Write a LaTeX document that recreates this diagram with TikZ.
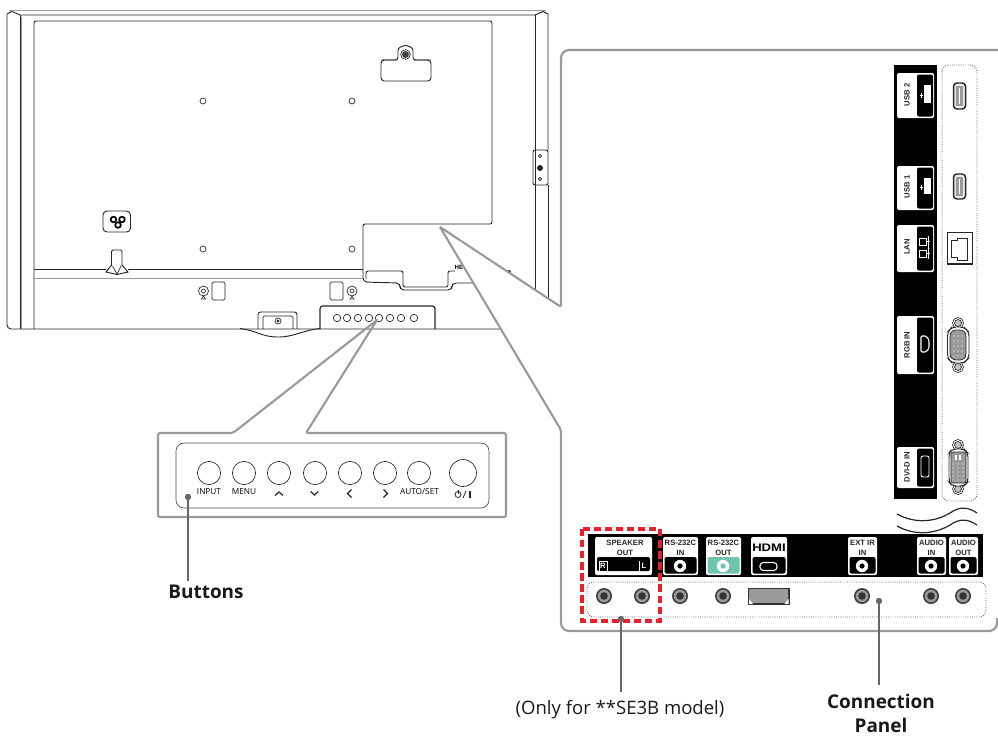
\documentclass[tikz,border=0pt]{standalone}
\usepackage{fontspec}
\setmainfont{Open Sans}
\newfontfamily\portfont{Liberation Sans}
\usetikzlibrary{positioning}
\definecolor{mgray}{HTML}{9A9A9A}
\definecolor{mleader}{HTML}{666666}
\definecolor{mred}{HTML}{E8202C}
\definecolor{mteal}{HTML}{6FC4AD}
\tikzset{tvline/.style = {black!85, line width=0.7pt}}
\tikzset{thinline/.style = {black!85, line width=0.5pt}}
\tikzset{callout/.style = {mgray, line width=1.6pt, rounded corners=1.5pt}}
\tikzset{leader/.style = {mleader, line width=1.6pt}}
\tikzset{dotbox/.style = {mgray!70!black, line width=0.7pt, densely dotted, rounded corners=5pt}}
\tikzset{plug/.style = {white, rounded corners=1.5pt}}
\tikzset{plugdark/.style = {black, rounded corners=1.5pt}}
\tikzset{portlabel/.style = {font=\portfont\bfseries\fontsize{5.75}{6.4}\selectfont, align=center, inner sep=0pt, text=black!85}}
\tikzset{buttonlabel/.style = {font=\fontsize{6.2}{7}\selectfont, inner sep=0pt, text=black}}
\tikzset{calltext/.style = {font=\bfseries\fontsize{14.2}{17.5}\selectfont, align=center, inner sep=0pt, text=black!90}}
\tikzset{hole/.style = {thinline, fill=white}}
\tikzset{jack/.pic = {
    \fill [black!75] (0, 0) circle (8);
    \fill [mgray] (0, 0) circle (6.2);
    \fill [black!80] (0, 0) circle (3.8);
}}
\tikzset{whitejack/.pic = {
    \fill [white] (0, 0) circle (6.2);
    \fill [black] (0, 0) circle (2.6);
}}
\begin{document}
\begin{tikzpicture}[x=0.75pt, y=-0.75pt]
    \useasboundingbox (0, 0) rectangle (998, 736);

    \draw [tvline, mgray] (9, 10.5) -- (546, 10.5);
    \draw [tvline, rounded corners=3pt] (7, 14) -- (7, 329) -- (540, 329);
    \draw [tvline] (7, 14) -- (12, 11.5) -- (20, 15) -- (535, 15) -- (543, 11.5) -- (548, 14) -- (548, 150);
    \draw [tvline] (20, 15) -- (20, 329);
    \draw [thinline, mgray] (21.5, 17) -- (21.5, 329);
    \draw [tvline] (535, 15) -- (535, 150);
    \draw [tvline] (548, 185) -- (548, 310);
    \draw [tvline] (535, 185) -- (535, 310);
    \draw [tvline, rounded corners=1.5pt] (34, 329) -- (34, 21) -- (492, 21) -- (492, 224) -- (363, 224) [rounded corners=3pt] -- (363, 282) -- (400, 283) -- (400, 290) -- (452, 290) -- (452, 283) -- (510, 283);
    \draw [tvline] (34, 269) -- (363, 269);
    \draw [tvline, mgray] (34, 278) -- (363, 278);
    \draw [tvline, rounded corners=1.5pt] (366, 279) -- (366, 271) -- (403, 271) -- (403, 287) -- (448, 287) -- (448, 271) -- (455, 271);

    \draw [tvline, rounded corners=2.5pt] (381, 81) rectangle (431, 60);
    \fill [white] (397, 62) rectangle (414, 46);
    \draw [tvline, rounded corners=2pt] (381, 60) -- (398, 60) -- (398, 48) -- (405.5, 45) -- (413, 48) -- (413, 60) -- (431, 60);
    \fill [black!75] (405.5, 54.5) circle (3.5);
    \draw [thinline] (405.5, 54.5) circle (4.8);

    \draw [hole] (203, 101) circle (3);
    \draw [hole] (352, 101) circle (3);
    \draw [hole] (203, 249) circle (3);
    \draw [hole] (352, 249) circle (3);

    \draw [tvline, rounded corners=3pt] (103, 211) rectangle (130.5, 232);
    \draw [black, line width=1.3pt] (113.5, 219.5) circle (2.8);
    \draw [black, line width=1.3pt] (122, 219.5) circle (2.8);
    \draw [black, line width=1.3pt] (118, 225) circle (2.8);

    \fill [white] (106, 269) rectangle (128, 276);
    \draw [tvline, rounded corners=1pt] (111.5, 266) -- (111.5, 250) -- (122, 250) -- (122, 266);
    \draw [tvline] (111.5, 265) -- (106, 272) -- (117, 274.5) -- (128, 272) -- (122, 265);
    \draw [thinline] (112.5, 266) -- (117, 274) -- (121, 266);

    \draw [thinline, fill=white, rounded corners=1pt] (212, 282) rectangle (225, 300);
    \draw [thinline] (203.5, 291) circle (5);
    \draw [thinline] (203.5, 291) circle (2);
    \draw [thinline] (201.5, 299) -- (205.5, 299) -- (203.5, 296) -- cycle;
    \draw [thinline, fill=white, rounded corners=1pt] (330, 282) rectangle (343, 300);
    \draw [thinline] (352, 291) circle (5);
    \draw [thinline] (352, 291) circle (2);
    \draw [thinline] (350, 299) -- (354, 299) -- (352, 296) -- cycle;

    \draw [tvline, rounded corners=1.5pt] (533, 185) -- (533, 150) -- (548, 150) -- (548, 185) -- cycle;
    \draw [thinline] (535, 150) -- (535, 185);
    \draw [hole] (540, 156) circle (1.6);
    \fill [black!85] (540, 168) circle (3);
    \draw [hole] (540, 179) circle (1.6);

    \draw [tvline, line width=0.9pt, rounded corners=2pt] (320, 329) -- (320, 306) -- (435, 306) -- (435, 329);
    \draw [thinline] (337, 318) circle (3.7);
    \draw [thinline] (347, 318) circle (3.7);
    \draw [thinline] (358, 318) circle (3.7);
    \draw [thinline] (369, 318) circle (3.7);
    \draw [thinline] (379, 318) circle (3.7);
    \draw [thinline] (390, 318) circle (3.7);
    \draw [thinline] (401, 318) circle (3.7);
    \draw [thinline] (414, 318) circle (3.7);

    \draw [tvline, rounded corners=2pt] (258, 329) -- (258, 312) -- (297, 312) -- (297, 329);
    \draw [thinline, rounded corners=1pt] (263, 329) -- (263, 316) -- (293, 316) -- (293, 329);
    \draw [thinline] (278, 321) circle (3);
    \fill [black!80] (278, 321) circle (1.6);
    \draw [tvline] (240, 328.5) .. controls (258, 331) and (262, 337) .. (278, 337) .. controls (294, 337) and (300, 331) .. (320, 328.5);

    \node [font=\portfont\bfseries\fontsize{4.6}{5}\selectfont, inner sep=0pt] (maker) at (459, 267) {HE};
    \fill [black!80] (509, 272) circle (2);

    \coordinate (panelapex) at (440, 227);
    \coordinate (panelupper) at (561, 307);
    \coordinate (panellower) at (561, 430);
    \fill [white] (panelapex) -- (panelupper) -- (panellower) -- cycle;
    \draw [callout] (panelapex) -- (panelupper) [rounded corners=6pt] -- (561, 50) -- (999, 50);
    \draw [callout] (panelapex) -- (panellower) [rounded corners=6pt] -- (561, 631) -- (997, 631) -- (997, 618);

    \coordinate (keysapex) at (377, 320);
    \coordinate (keysleft) at (233, 433);
    \coordinate (keysright) at (306, 433);
    \draw [callout] (keysapex) -- (keysleft) -- (158, 433) -- (158, 517) -- (506, 517) -- (506, 433) -- (keysright) -- cycle;

    \draw [line width=0.5pt, black!70, rounded corners=6pt] (176, 443) rectangle (489, 508);
    \draw [thinline] (209, 473) circle (11.6);
    \draw [thinline] (244, 473) circle (11.6);
    \draw [thinline] (279, 473) circle (11.6);
    \draw [thinline] (315, 473) circle (11.6);
    \draw [thinline] (350, 473) circle (11.6);
    \draw [thinline] (385, 473) circle (11.6);
    \draw [thinline] (419, 473) circle (11.6);
    \draw [thinline] (463, 473) circle (13.5);
    \node [buttonlabel] (input) at (209, 492) {INPUT};
    \node [buttonlabel] (menu) at (244, 492) {MENU};
    \node [buttonlabel] (autoset) at (419.5, 492) {AUTO/SET};
    \draw [tvline, line width=0.9pt] (275, 495.5) -- (279, 492) -- (283, 495.5);
    \draw [tvline, line width=0.9pt] (310.5, 491.5) -- (314.5, 495) -- (318.5, 491.5);
    \draw [tvline, line width=0.9pt] (351.5, 489.5) -- (347.5, 493.5) -- (351.5, 497.5);
    \draw [tvline, line width=0.9pt] (383.5, 489.5) -- (387.5, 493.5) -- (383.5, 497.5);
    \draw [thinline, line width=0.6pt] (458, 494.5) circle (3);
    \draw [thinline, line width=0.6pt] (458, 490) -- (458, 494);
    \draw [thinline, line width=0.6pt] (463, 498) -- (466, 491);
    \draw [thinline, line width=0.8pt] (470, 491) -- (470, 497.5);

    \coordinate (buttonsdot) at (188, 497);
    \node [calltext] (buttons) at (206, 592) {Buttons};
    \fill [mleader] (buttonsdot) circle (3.2);
    \draw [leader, shorten >=3pt] (buttonsdot) -- (buttonsdot |- buttons.north);

    \fill [black] (894, 65) rectangle (937, 499);
    \draw [dotbox] (942, 65) rectangle (977, 501);

    \fill [plug] (897, 73) rectangle (934, 118);
    \fill [plugdark] (917, 74.5) rectangle (933, 116.5);
    \node [portlabel, rotate=90] (usbtwo) at (907, 95) {USB 2};
    \fill [white] (924, 85) rectangle (931, 103);
    \draw [white, line width=0.5pt] (921, 93) -- (921, 98);
    \draw [white, line width=0.5pt] (919.5, 95) -- (922.5, 95);

    \fill [plug] (897, 166) rectangle (934, 210);
    \fill [plugdark] (917, 167.5) rectangle (933, 208.5);
    \node [portlabel, rotate=90] (usbone) at (907, 187) {USB 1};
    \fill [white] (924, 178) rectangle (931, 194);
    \draw [white, line width=0.5pt] (921, 185) -- (921, 190);
    \draw [white, line width=0.5pt] (919.5, 187) -- (922.5, 187);

    \fill [plug] (897, 225) rectangle (934, 272);
    \fill [plugdark] (917, 226.5) rectangle (933, 270.5);
    \node [portlabel, rotate=90] (lan) at (907, 247) {LAN};
    \draw [white, line width=0.6pt] (919, 238) rectangle (926, 245);
    \draw [white, line width=0.6pt] (919, 250) rectangle (926, 257);
    \draw [white, line width=0.6pt] (928, 236) -- (928, 259);
    \draw [white, line width=0.6pt] (926, 241) -- (930, 241);
    \draw [white, line width=0.6pt] (926, 253) -- (930, 253);

    \fill [plug] (897, 316) rectangle (934, 374);
    \fill [plugdark] (917, 317.5) rectangle (933, 372.5);
    \node [portlabel, rotate=90] (rgbin) at (907, 345) {RGB IN};
    \draw [white, line width=0.8pt, rounded corners=0.8pt] (921, 336) -- (926, 336) -- (929, 340) -- (929, 348) -- (926, 352) -- (921, 352) -- cycle;

    \fill [plug] (897, 447) rectangle (934, 488);
    \fill [plugdark] (917, 448.5) rectangle (933, 486.5);
    \node [portlabel, rotate=90] (dvidin) at (907, 467) {DVI-D IN};
    \draw [white, line width=0.7pt, rounded corners=1.5pt] (921, 456) rectangle (929, 477);

    \draw [tvline, line width=1.1pt, rounded corners=2.5pt, fill=mgray!20] (953.5, 83) rectangle (965.5, 109);
    \fill [mgray] (956, 86) rectangle (963, 106);
    \draw [thinline, white] (959.5, 88) -- (959.5, 104);
    \draw [tvline, line width=1.1pt, rounded corners=2.5pt, fill=mgray!20] (953.5, 174) rectangle (965.5, 199);
    \fill [mgray] (956, 177) rectangle (963, 196);
    \draw [thinline, white] (959.5, 179) -- (959.5, 194);

    \draw [black!85, line width=1.3pt] (947.5, 232.5) rectangle (972.5, 264);
    \draw [thinline] (951, 240) -- (951, 257) -- (957, 257) -- (957, 260) -- (967, 260) -- (967, 238) -- (957, 238) -- (957, 240) -- cycle;

    \draw [thinline, fill=white] (958, 323) circle (5.5);
    \draw [thinline, fill=mgray!60] (958, 323) circle (3.5);
    \draw [thinline, fill=white] (958, 367) circle (5.5);
    \draw [thinline, fill=mgray!60] (958, 367) circle (3.5);
    \draw [tvline, fill=white, rounded corners=3pt] (952, 327) -- (964, 327) -- (969, 332) -- (969, 358) -- (964, 363) -- (952, 363) -- (947.5, 358) -- (947.5, 332) -- cycle;
    \draw [thinline, fill=mgray, rounded corners=2pt] (953, 330) -- (963, 330) -- (966, 334) -- (966, 356) -- (963, 360) -- (953, 360) -- (950, 356) -- (950, 334) -- cycle;
    \foreach \pinrow in {336, 341, 346, 351, 356}
        \foreach \pinx in {954, 958, 962}
            \fill [white] (\pinx, \pinrow) circle (0.7);

    \draw [thinline, fill=white] (958, 445) circle (5.5);
    \draw [thinline, fill=mgray!60] (958, 445) circle (3.5);
    \draw [thinline, fill=white] (958, 489) circle (5.5);
    \draw [thinline, fill=mgray!60] (958, 489) circle (3.5);
    \draw [tvline, fill=white, rounded corners=3pt] (952, 449) -- (964, 449) -- (968, 453) -- (968, 482) -- (964, 486) -- (952, 486) -- (949, 482) -- (949, 453) -- cycle;
    \draw [thinline, fill=mgray, rounded corners=1.5pt] (951, 452) rectangle (966, 483);
    \fill [white] (955, 455) rectangle (957, 460);
    \fill [white] (959, 455) rectangle (961, 460);
    \foreach \pinrow in {464, 468, 472, 476, 480}
        \foreach \pinx in {953, 958, 963}
            \fill [white] (\pinx, \pinrow) circle (0.7);

    \draw [tvline, line width=0.9pt] (897, 514) .. controls (915, 524) and (935, 522) .. (950, 513) .. controls (960, 506) and (968, 507) .. (977, 513);
    \draw [tvline, line width=0.9pt] (897, 526) .. controls (915, 536) and (935, 534) .. (950, 525) .. controls (960, 518) and (968, 519) .. (977, 525);

    \fill [black] (588, 534) rectangle (983, 577);
    \draw [dotbox] (587, 582) rectangle (986, 617);

    \fill [plug] (595, 537) rectangle (652, 575);
    \fill [plugdark] (597, 557) rectangle (650, 571);
    \node [portlabel] (speakerout) at (625, 548) {SPEAKER\\[1.5pt]OUT};
    \node [portlabel, text=white] (speakerright) at (603, 566) {R};
    \node [portlabel, text=white] (speakerleft) at (644, 566) {L};
    \draw [white, line width=0.4pt] (599, 561) rectangle (607, 571);
    \draw [white, line width=0.4pt] (639, 561) -- (639, 571);

    \fill [plug] (663, 537) rectangle (698, 575);
    \fill [plugdark] (664.5, 557) rectangle (696.5, 573.5);
    \node [portlabel] (rsin) at (680.5, 548) {RS-232C\\[1.5pt]IN};
    \pic (rsinjack) at (680, 566) {whitejack};

    \fill [plug] (706, 537) rectangle (741, 575);
    \fill [mteal, rounded corners=1.5pt] (707.5, 557) rectangle (739.5, 573.5);
    \node [portlabel] (rsout) at (723.5, 548) {RS-232C\\[1.5pt]OUT};
    \fill [white] (723, 566) circle (6.2);
    \fill [mteal] (723, 566) circle (2.6);

    \fill [plug] (751, 537) rectangle (787, 575);
    \fill [plugdark] (752.5, 557) rectangle (785.5, 573.5);
    \node [font=\portfont\bfseries\fontsize{8.2}{9}\selectfont, inner sep=0pt, xscale=1.2] (hdmi) at (769, 548) {HDMI};
    \draw [white, line width=0.8pt, rounded corners=2.5pt] (760, 562.5) rectangle (777, 570.5);

    \fill [plug] (848, 537) rectangle (877, 575);
    \fill [plugdark] (849.5, 557) rectangle (875.5, 573.5);
    \node [portlabel] (extir) at (862.5, 548) {EXT IR\\[1.5pt]IN};
    \pic (extirjack) at (862, 566) {whitejack};

    \fill [plug] (917, 537) rectangle (946, 575);
    \fill [plugdark] (918.5, 557) rectangle (944.5, 573.5);
    \node [portlabel] (audioin) at (931.5, 548) {AUDIO\\[1.5pt]IN};
    \pic (audioinjack) at (931, 566) {whitejack};

    \fill [plug] (949, 537) rectangle (978, 575);
    \fill [plugdark] (950.5, 557) rectangle (976.5, 573.5);
    \node [portlabel] (audioout) at (963.5, 548) {AUDIO\\[1.5pt]OUT};
    \pic (audiooutjack) at (963, 566) {whitejack};

    \pic (speakerrjack) at (604, 596) {jack};
    \pic (speakerljack) at (642, 596) {jack};
    \pic (rsinport) at (680, 596) {jack};
    \pic (rsoutport) at (723, 596) {jack};
    \pic (extirport) at (862, 596) {jack};
    \pic (audioinport) at (931, 596) {jack};
    \pic (audiooutport) at (963, 596) {jack};

    \draw [black!80, line width=0.8pt, fill=mgray] (748.5, 588.5) rectangle (789, 604);
    \fill [white] (749, 604) -- (749, 599) -- (753, 604) -- cycle;
    \fill [white] (788.5, 604) -- (788.5, 599) -- (784.5, 604) -- cycle;

    \draw [mred, line width=2.3pt, dash pattern=on 5.5pt off 2.8pt] (582, 529) rectangle (660, 621);

    \coordinate (modeldot) at (621, 619);
    \node [font=\fontsize{13.9}{16}\selectfont, inner sep=0pt, text=black!90] (modelnote) at (620, 710) {(Only for **SE3B model)};
    \fill [mleader] (modeldot) circle (3.2);
    \draw [leader, shorten >=6pt] (modeldot) -- (modeldot |- modelnote.north);

    \coordinate (paneldot) at (879, 601);
    \node [calltext] (connpanel) at (881, 713.5) {Connection\\Panel};
    \fill [mleader] (paneldot) circle (3.2);
    \draw [leader, shorten >=7pt] (paneldot) -- (paneldot |- connpanel.north);
\end{tikzpicture}
\end{document}
